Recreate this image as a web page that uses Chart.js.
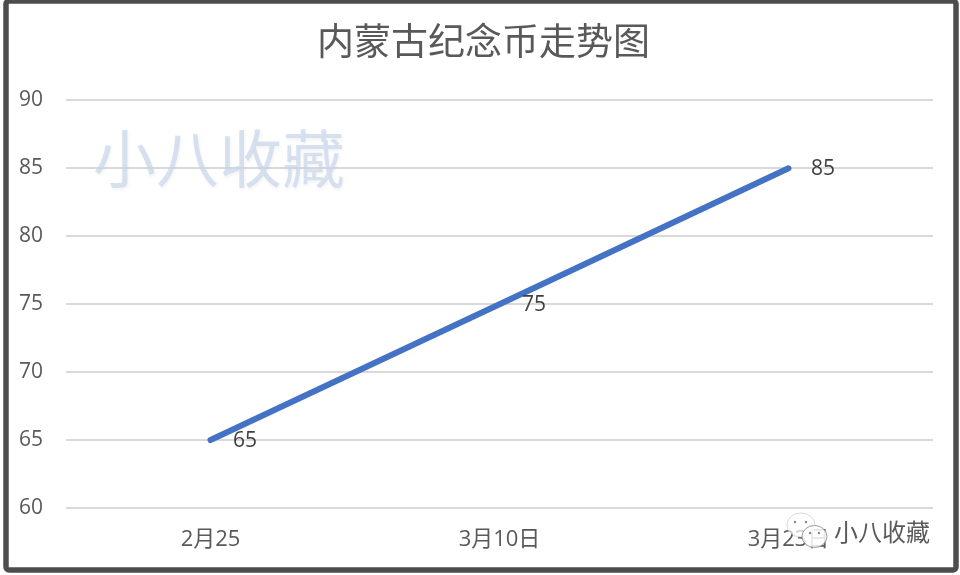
<!DOCTYPE html>
<html>
<head>
<meta charset="utf-8">
<style>
  html, body { margin: 0; padding: 0; background: #fff; }
  #wrap { position: relative; width: 960px; height: 575px; }
</style>
<script src="https://cdn.jsdelivr.net/npm/chart.js@4"></script>
</head>
<body>
<div id="wrap"><canvas id="chart" width="960" height="575"></canvas></div>
<script>
const categories = ['2月25', '3月10日', '3月23日'];
const prices = [65, 75, 85];
const yMin = 60;
const yMax = 90;
const yStep = 5;
const chartTitle = '内蒙古纪念币走势图';
const watermark = '小八收藏';

const fontFamily = '"Open Sans", "Noto Sans CJK SC", sans-serif';
const cjkFamily = '"Noto Sans CJK SC", sans-serif';

// The title sits a little right of the canvas centre
const titleShift = {
  id: 'titleShift',
  afterLayout(chart) {
    chart.titleBlock.left += 13;
    chart.titleBlock.right += 13;
  }
};

// Value labels sit to the right of each point
const valueLabels = {
  id: 'valueLabels',
  afterDatasetsDraw(chart) {
    const ctx = chart.ctx;
    const points = chart.getDatasetMeta(0).data;
    ctx.save();
    ctx.font = '21px ' + fontFamily;
    ctx.fillStyle = '#404040';
    ctx.textAlign = 'center';
    ctx.textBaseline = 'middle';
    points.forEach((pt, i) => {
      ctx.fillText(String(prices[i]), pt.x + 34.5, pt.y + 1);
    });
    ctx.restore();
  }
};

// Big watermark behind the line
const bigWatermark = {
  id: 'bigWatermark',
  beforeDatasetsDraw(chart) {
    const ctx = chart.ctx;
    ctx.save();
    ctx.font = '63px ' + cjkFamily;
    ctx.fillStyle = 'rgba(200, 214, 235, 0.7)';
    ctx.shadowColor = 'rgba(170, 170, 170, 0.2)';
    ctx.shadowBlur = 3;
    ctx.shadowOffsetX = 1;
    ctx.shadowOffsetY = 2;
    ctx.textBaseline = 'middle';
    ctx.fillText(watermark, 93, 158);
    ctx.restore();
  }
};

// Frame and the small account mark in the corner
const frame = {
  id: 'frame',
  afterDraw(chart) {
    const ctx = chart.ctx;
    ctx.save();
    ctx.strokeStyle = '#4d4d4d';
    ctx.lineWidth = 5.5;
    ctx.beginPath();
    ctx.roundRect(6, 1, 950, 569, 3);
    ctx.stroke();

    ctx.lineWidth = 1;
    ctx.strokeStyle = 'rgba(200, 200, 200, 0.7)';
    ctx.fillStyle = 'rgba(255, 255, 255, 0.7)';
    ctx.beginPath();
    ctx.ellipse(801, 525, 14, 12, 0, 0, Math.PI * 2);
    ctx.fill();
    ctx.stroke();
    ctx.fillStyle = 'rgba(255, 255, 255, 0.85)';
    ctx.strokeStyle = 'rgba(130, 130, 130, 0.8)';
    ctx.beginPath();
    ctx.ellipse(814.5, 536.5, 12.5, 11, 0, 0, Math.PI * 2);
    ctx.fill();
    ctx.stroke();
    ctx.fillStyle = '#888';
    [[795, 522], [806, 522], [810, 533], [819, 533]].forEach(d => {
      ctx.beginPath();
      ctx.arc(d[0], d[1], 1.2, 0, Math.PI * 2);
      ctx.fill();
    });

    ctx.font = '24px ' + cjkFamily;
    ctx.fillStyle = '#5a5a5a';
    ctx.textBaseline = 'middle';
    ctx.shadowColor = '#fff';
    ctx.shadowBlur = 2;
    ctx.fillText(watermark, 834, 532);
    ctx.restore();
  }
};

new Chart(document.getElementById('chart').getContext('2d'), {
  type: 'line',
  data: {
    labels: categories,
    datasets: [{
      data: prices,
      borderColor: '#4472c4',
      borderWidth: 6,
      borderCapStyle: 'round',
      pointRadius: 0,
      tension: 0
    }]
  },
  options: {
    responsive: false,
    animation: false,
    layout: { padding: { left: 8, right: 27, top: 16, bottom: 0 } },
    plugins: {
      legend: { display: false },
      tooltip: { enabled: false },
      title: {
        display: true,
        text: chartTitle,
        color: '#595959',
        font: { family: cjkFamily, size: 37, weight: 'normal' },
        padding: { top: 3, bottom: 37 }
      }
    },
    scales: {
      x: {
        offset: true,
        grid: { display: false },
        border: { display: false },
        ticks: {
          color: '#595959',
          font: { family: fontFamily, size: 22 },
          padding: 11,
          maxRotation: 0
        },
        afterFit(axis) { axis.height = 67; }
      },
      y: {
        min: yMin,
        max: yMax,
        grid: { color: '#d9d9d9', lineWidth: 2, drawTicks: false },
        border: { display: false },
        ticks: {
          stepSize: yStep,
          color: '#595959',
          font: { family: fontFamily, size: 21 },
          padding: 23
        },
        afterFit(axis) { axis.width = 58; }
      }
    }
  },
  plugins: [titleShift, bigWatermark, valueLabels, frame]
});
</script>
</body>
</html>
